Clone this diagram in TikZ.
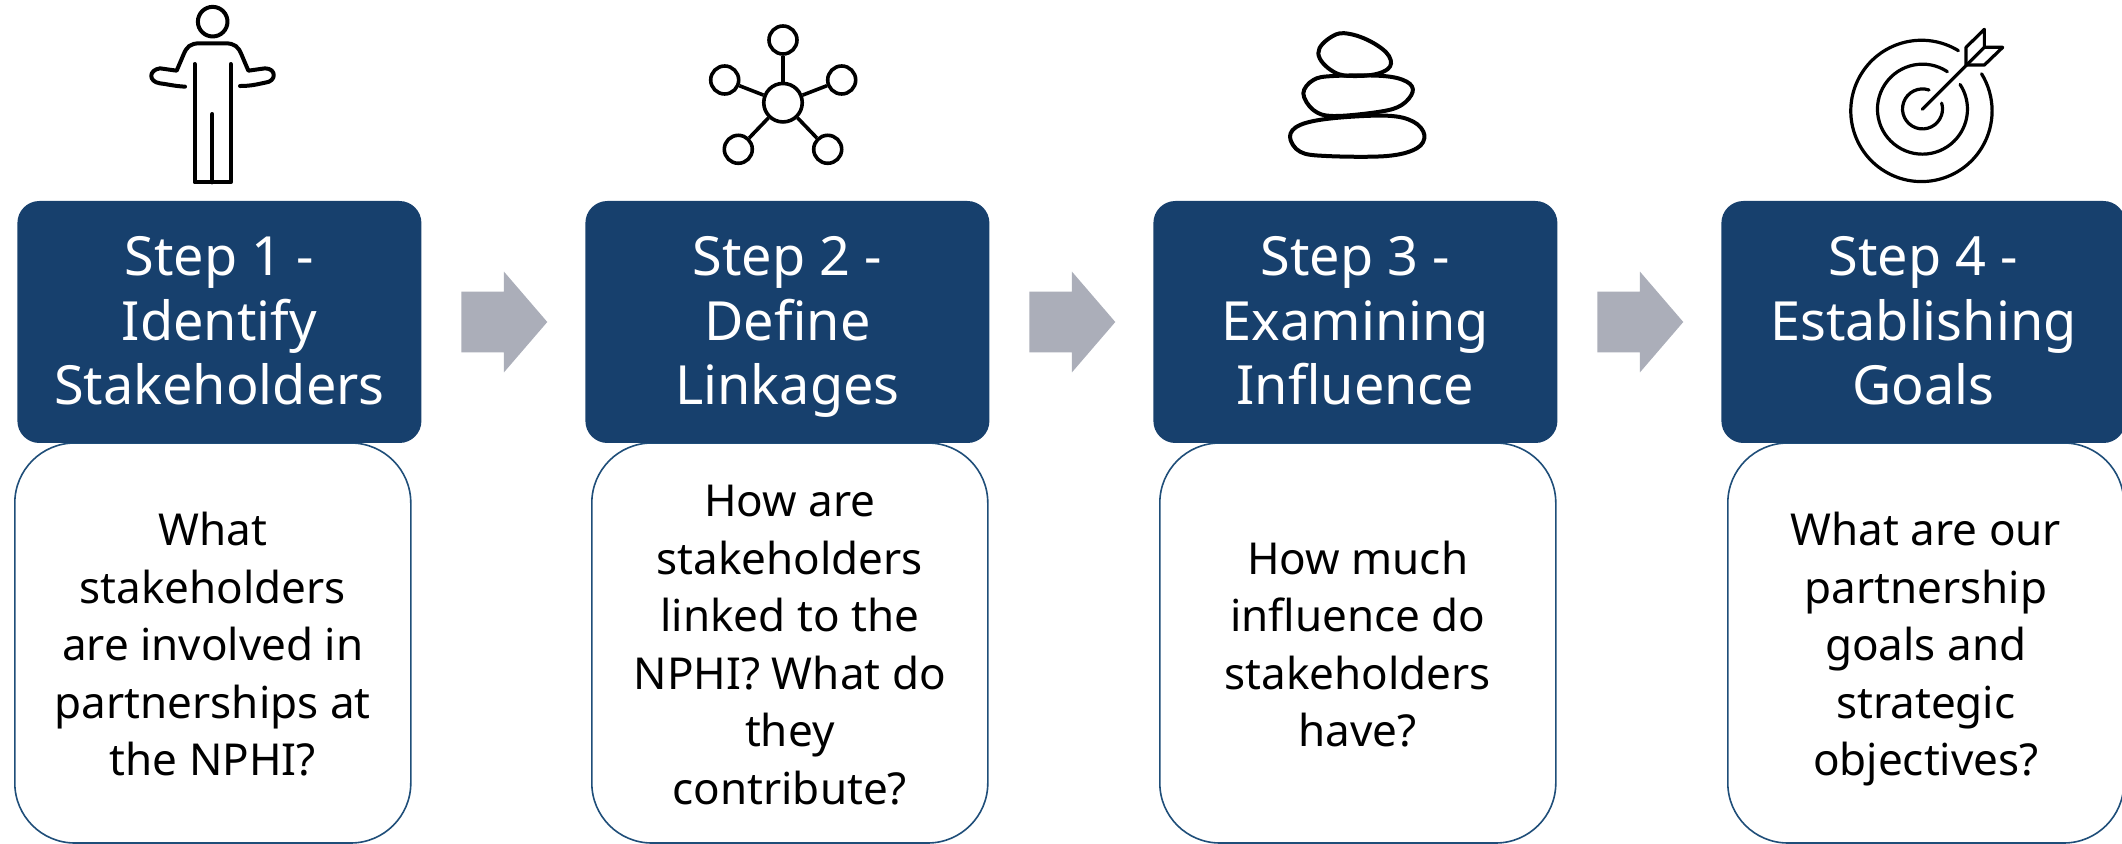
\documentclass[tikz,border=0pt]{standalone}
\usepackage{fontspec}
\setmainfont{Noto Sans}
\usetikzlibrary{shapes.arrows,calc}
\definecolor{headblue}{HTML}{17406D}
\definecolor{edgeblue}{HTML}{1F4E79}
\definecolor{arrowgray}{HTML}{ABAEB9}
\begin{document}
\begin{tikzpicture}[x=0.5pt,y=-0.5pt,
    headbox/.style={rectangle,rounded corners=11pt,fill=headblue,text=white,align=center,anchor=west,inner sep=0pt,
      minimum width=202pt,minimum height=121pt,font=\fontsize{27}{32.25}\selectfont},
    bodybox/.style={rectangle,rounded corners=30pt,draw=edgeblue,line width=0.8pt,fill=white,align=center,anchor=west,inner sep=0pt,
      minimum width=198pt,minimum height=200pt,font=\fontsize{22}{28.75}\selectfont},
    stagearrow/.style={single arrow,fill=arrowgray,inner xsep=0pt,inner ysep=15pt,minimum height=43pt,xshift=-6.1pt,
      single arrow head extend=10pt,single arrow head indent=0pt,single arrow tip angle=98.6},
    hubdot/.style={circle,draw,line width=1.8pt,inner sep=0pt,minimum size=19.25pt},
    satdot/.style={circle,draw,line width=1.8pt,inner sep=0pt,minimum size=14pt},
    icon/.style={line width=2pt,line cap=round,line join=round}]
  \useasboundingbox (0,0) rectangle (2122,844);
  \foreach \i/\x/\y/\t in {1/14/643/{What\\stakeholders\\are involved in\\partnerships at\\the NPHI?},
      2/591/643/{How are\\stakeholders\\linked to the\\NPHI? What do\\they\\contribute?},
      3/1159/643/{How much\\influence do\\stakeholders\\have?},
      4/1727/643/{What are our\\partnership\\goals and\\strategic\\objectives?}} {
    \node [bodybox] (body\i) at (\x, \y) {\rule{0pt}{24.7pt}\t\rule[-7pt]{0pt}{7pt}};
  }
  \foreach \i/\x/\t in {1/17/{Step 1 -\\Identify\\Stakeholders},
      2/585/{Step 2 -\\Define\\Linkages},
      3/1153/{Step 3 -\\Examining\\Influence},
      4/1721/{Step 4 -\\Establishing\\Goals}} {
    \node [headbox] (head\i) at (\x, 322) {\rule{0pt}{26.7pt}\t\rule[-8.5pt]{0pt}{8.5pt}};
  }
  \foreach \i/\j in {1/2,2/3,3/4} {
    \node [stagearrow] (arrow\i) at ($(head\i.east)!0.5!(head\j.west)$) {};
  }
  \begin{scope}[shift={(130,0)},x=0.1667pt,y=-0.1667pt,icon]
    \draw (248,65) circle [radius=7.4pt];
    \draw (165,260) .. controls (130,258) and (110,252) .. (90,250)
      .. controls (55,245) and (55,210) .. (90,205) -- (140,212) -- (160,165)
      .. controls (170,140) and (180,130) .. (210,130) -- (285,130)
      .. controls (315,130) and (325,140) .. (335,165) -- (355,212) -- (405,205)
      .. controls (440,205) and (440,245) .. (405,248) .. controls (385,252) and (365,258) .. (330,258);
    \draw (194,192) -- (194,547) -- (302,547) -- (302,192);
    \draw (247,342) -- (247,547);
  \end{scope}
  \node [hubdot] (hub) at (783,102.7) {};
  \foreach \n/\p in {1/{(783,40)},2/{(724.7,80)},3/{(841.7,80)},4/{(738.3,149.3)},5/{(827.7,149.3)}} {
    \node [satdot] (sat\n) at \p {};
    \draw [line width=1.8pt] (hub) -- (sat\n);
  }
  \begin{scope}[shift={(1270,20)},x=0.1667pt,y=-0.1667pt,icon]
    \draw plot [smooth cycle,tension=0.7] coordinates {(145,100) (185,50) (240,42) (320,75) (362,120) (340,155) (260,168) (190,155)};
    \draw plot [smooth cycle,tension=0.6] coordinates {(100,220) (130,180) (190,168) (340,168) (410,185) (428,215) (395,255) (330,275) (190,288) (130,270)};
    \draw plot [smooth cycle,tension=0.6] coordinates {(60,350) (90,315) (185,295) (350,287) (430,305) (463,345) (440,385) (350,408) (170,408) (90,395)};
  \end{scope}
  \begin{scope}[shift={(1830,10)},x=0.1667pt,y=-0.1667pt,icon,line width=1.6pt]
    \draw (385,122) arc [start angle=58.5,end angle=391.7,radius=35.33pt];
    \draw (352,185) arc [start angle=56.4,end angle=393.3,radius=22.5pt];
    \draw (297,240) arc [start angle=71,end angle=377,radius=10pt];
    \draw (277,298) -- (463,112);
    \draw (408,165) -- (408,112) -- (463,58) -- (463,112) -- (518,112) -- (463,165) -- cycle;
  \end{scope}
\end{tikzpicture}
\end{document}
